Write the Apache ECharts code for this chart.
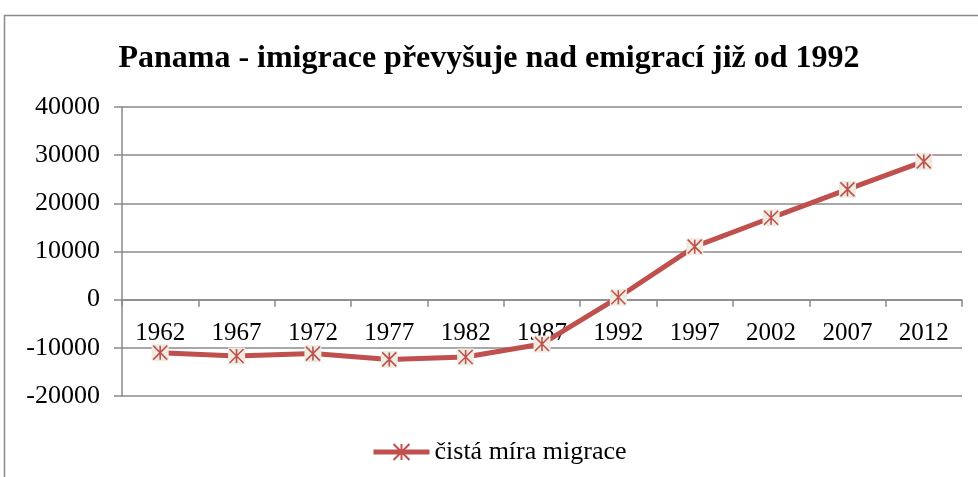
<!DOCTYPE html>
<html>
<head>
<meta charset="utf-8">
<script src="https://cdn.jsdelivr.net/npm/echarts@6/dist/echarts.min.js"></script>
<style>
  html, body { margin: 0; padding: 0; background: #fff; }
  #chart { width: 978px; height: 477px; }
</style>
</head>
<body>
<div id="chart"></div>
<script>
// data
const years = ['1962', '1967', '1972', '1977', '1982', '1987', '1992', '1997', '2002', '2007', '2012'];
const migrace = [-11000, -11700, -11200, -12400, -11900, -9200, 500, 11000, 17000, 22900, 28700];
const seriesName = 'čistá míra migrace';
const titleText = 'Panama - imigrace převyšuje nad emigrací již od 1992';

const red = '#C0504D';
const grey = '#8a8a8a';
const serif = '"Liberation Serif", "Times New Roman", serif';

const gridTop = 107, gridBottom = 81, chartH = 477;
const yMin = -20000, yMax = 40000;
// shift the category axis up to the zero line
const plotH = chartH - gridTop - gridBottom;
const zeroOffset = -plotH * (0 - yMin) / (yMax - yMin);

const chart = echarts.init(document.getElementById('chart'));

const option = {
    backgroundColor: '#fff',
    animation: false,
    title: {
        text: titleText,
        left: 'center',
        top: 38,
        textStyle: { fontFamily: serif, fontSize: 32, fontWeight: 'bold', color: '#000' }
    },
    graphic: [{
        // outer chart frame (cropped at the right and bottom)
        type: 'rect',
        shape: { x: 4.5, y: 15.5, width: 1000, height: 500 },
        style: { fill: 'none', stroke: grey, lineWidth: 1.5 },
        silent: true
    }],
    legend: {
        data: [{ name: seriesName }],
        top: 434,
        left: 366,
        itemWidth: 56,
        itemHeight: 20,
        itemGap: 2,
        lineStyle: { color: red, width: 5, opacity: 1 },
        textStyle: { fontFamily: serif, fontSize: 26, color: '#000' }
    },
    grid: { left: 122, right: 16, top: gridTop, bottom: gridBottom },
    xAxis: {
        type: 'category',
        data: years,
        boundaryGap: true,
        offset: zeroOffset,
        axisLine: { onZero: false, lineStyle: { color: grey, width: 1.5 } },
        axisTick: { show: true, inside: false, length: 7, lineStyle: { color: grey, width: 1.5 } },
        axisLabel: { margin: 21, fontFamily: serif, fontSize: 25, color: '#000' },
        splitLine: { show: false }
    },
    yAxis: {
        type: 'value',
        min: yMin,
        max: yMax,
        interval: 10000,
        axisLine: { show: true, lineStyle: { color: grey, width: 1.5 } },
        axisTick: { show: true, length: 8, lineStyle: { color: grey, width: 1.5 } },
        axisLabel: {
            margin: 22, fontFamily: serif, fontSize: 26, color: '#000',
            formatter: v => String(v)
        },
        splitLine: { show: true, lineStyle: { color: grey, width: 1.5 } }
    },
    series: [
        {
            // asterisk drawn over the square markers (also gives the legend icon)
            name: seriesName,
            type: 'line',
            data: migrace,
            symbol: 'path://M0,0L10,10M10,0L0,10M5,0L5,10',
            symbolSize: 14,
            showAllSymbol: true,
            lineStyle: { width: 0, opacity: 0 },
            itemStyle: { color: 'none', borderColor: red, borderWidth: 1.6 },
            z: 3
        },
        {
            name: seriesName,
            type: 'line',
            data: migrace,
            symbol: 'rect',
            symbolSize: 17,
            showAllSymbol: true,
            lineStyle: { color: red, width: 5 },
            itemStyle: { color: '#EEECE1', borderWidth: 0 },
            z: 2
        }
    ]
};

chart.setOption(option);
</script>
</body>
</html>
